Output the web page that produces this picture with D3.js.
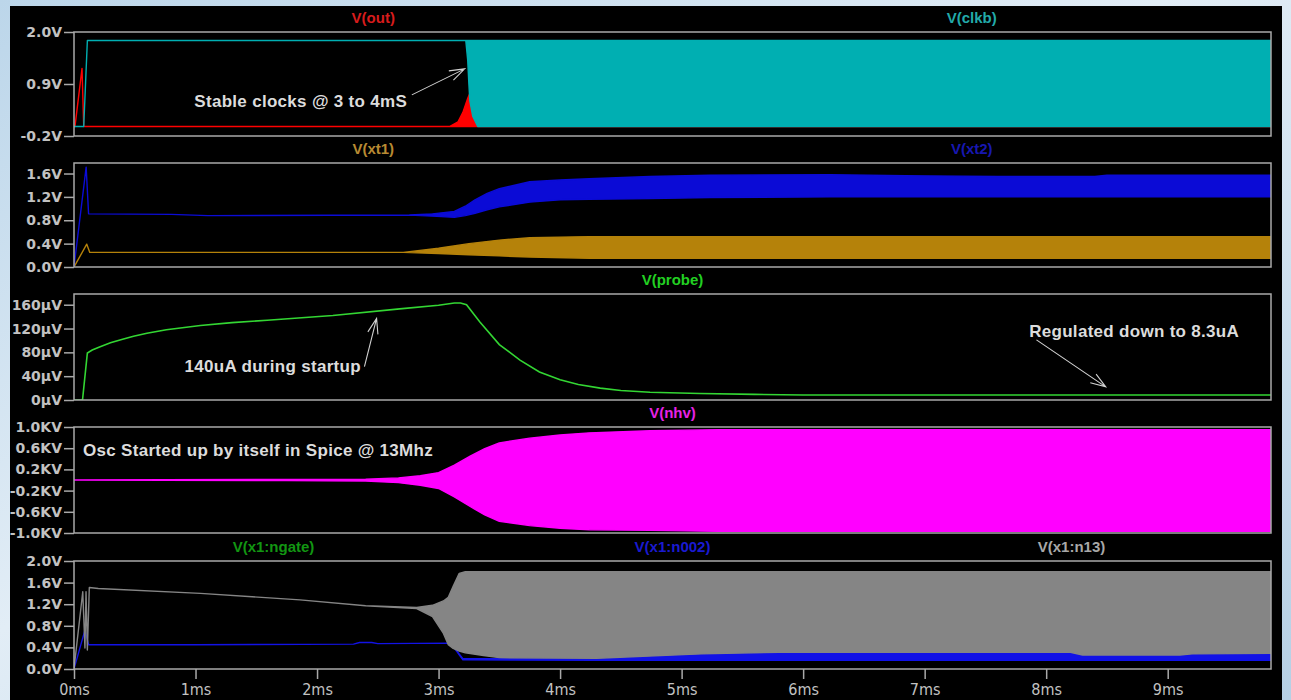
<!DOCTYPE html>
<html><head><meta charset="utf-8">
<script src="https://cdn.jsdelivr.net/npm/d3@7"></script>
<style>
html,body{margin:0;padding:0;overflow:hidden;background:#cfe2f0;}
</style></head><body>
<svg id="c" width="1291" height="700"></svg>
<script>
// ---------------- DATA ----------------
const msTicks = [0,1,2,3,4,5,6,7,8,9];
const msLabels = ["0ms","1ms","2ms","3ms","4ms","5ms","6ms","7ms","8ms","9ms"];

const p1Ticks = [-0.2, 0.9, 2.0];
const p1Labels = ["-0.2V","0.9V","2.0V"];
const p2Ticks = [0, 0.4, 0.8, 1.2, 1.6];
const p2Labels = ["0.0V","0.4V","0.8V","1.2V","1.6V"];
const p3Ticks = [0, 40, 80, 120, 160];
const p3Labels = ["0µV","40µV","80µV","120µV","160µV"];
const p4Ticks = [-1.0, -0.6, -0.2, 0.2, 0.6, 1.0];
const p4Labels = ["-1.0KV","-0.6KV","-0.2KV","0.2KV","0.6KV","1.0KV"];
const p5Ticks = [0, 0.4, 0.8, 1.2, 1.6, 2.0];
const p5Labels = ["0.0V","0.4V","0.8V","1.2V","1.6V","2.0V"];

// V(out) envelope (V) vs time (ms)
const outT  = [0, 0.008, 0.066, 0.08, 3.09, 3.16, 3.20, 3.24, 3.26, 3.35, 9.85];
const outHi = [0, 0, 1.23, 0, 0, 0.10, 0.30, 0.60, 0.72, 1.0, 1.0];
const outLo = [0, 0, 1.23, 0, 0, 0, 0, 0, 0, 0, 0];
// V(clkb)
const clkbT  = [0, 0.08, 0.11, 3.224, 3.240, 3.248, 3.257, 3.281, 3.322, 9.85];
const clkbHi = [0, 0, 1.82, 1.82, 1.82, 1.82, 1.82, 1.82, 1.82, 1.82];
const clkbLo = [0, 0, 1.82, 1.82, 1.40, 0.97, 0.55, 0.22, 0.0, 0.0];

// V(xt1)
const xt1T  = [0, 0.105, 0.13, 2.71, 3.0, 3.25, 3.5, 3.75, 4.24, 9.85];
const xt1Hi = [0, 0.39, 0.25, 0.25, 0.32, 0.40, 0.46, 0.50, 0.52, 0.52];
const xt1Lo = [0, 0.39, 0.25, 0.25, 0.23, 0.21, 0.19, 0.17, 0.15, 0.15];
// V(xt2)
const xt2T  = [0, 0.10, 0.12, 0.8, 1.1, 2.76, 2.95, 3.13, 3.22, 3.30, 3.4, 3.5, 3.75, 4.0, 4.24, 4.74, 5.23, 6.22, 7.0, 7.6, 8.4, 8.5, 9.85];
const xt2Hi = [0, 1.71, 0.91, 0.90, 0.88, 0.89, 0.91, 0.95, 1.04, 1.15, 1.26, 1.34, 1.46, 1.49, 1.51, 1.55, 1.57, 1.58, 1.56, 1.55, 1.55, 1.57, 1.57];
const xt2Lo = [0, 1.71, 0.91, 0.90, 0.88, 0.89, 0.87, 0.85, 0.88, 0.92, 0.98, 1.03, 1.11, 1.15, 1.16, 1.17, 1.19, 1.20, 1.20, 1.20, 1.20, 1.20, 1.20];

// V(probe) (µV)
const probeT = [0, 0.07, 0.11, 0.15, 0.21, 0.3, 0.4, 0.49, 0.6, 0.76, 1.04, 1.3, 1.59, 2.13, 2.68, 3.0, 3.13, 3.18, 3.23, 3.34, 3.5, 3.67, 3.83, 4.0, 4.15, 4.33, 4.5, 4.74, 5.15, 5.6, 6.0, 9.85];
const probeV = [0, 0, 79, 84, 89, 96, 102, 107, 112, 118, 125, 130, 134, 142, 153, 159, 163, 163, 160, 131, 93, 67, 47, 34, 26, 20, 16, 13, 11, 9.5, 8.5, 8.3];

// V(nhv) (KV)
const nhvT  = [0, 1.75, 2.4, 2.67, 2.85, 3.0, 3.13, 3.26, 3.38, 3.5, 3.75, 4.0, 4.24, 4.74, 5.3, 9.85];
const nhvHi = [0, 0.01, 0.015, 0.04, 0.08, 0.14, 0.28, 0.45, 0.59, 0.70, 0.79, 0.85, 0.89, 0.93, 0.95, 0.95];
const nhvLo = [0, -0.01, -0.02, -0.05, -0.10, -0.16, -0.32, -0.50, -0.66, -0.78, -0.86, -0.91, -0.94, -0.95, -0.97, -0.97];

// V(x1:n002)
const n002T  = [0, 0.09, 0.12, 1.0, 2.3, 2.35, 2.45, 2.5, 3.1, 3.2, 4.3, 5.16, 5.8, 8.2, 8.3, 9.1, 9.2, 9.85];
const n002Hi = [0, 0.72, 0.45, 0.45, 0.46, 0.49, 0.49, 0.47, 0.48, 0.19, 0.19, 0.30, 0.33, 0.33, 0.28, 0.28, 0.30, 0.31];
const n002Lo = [0, 0.72, 0.45, 0.45, 0.46, 0.49, 0.49, 0.47, 0.48, 0.17, 0.16, 0.16, 0.16, 0.16, 0.16, 0.16, 0.16, 0.16];
// V(x1:n13)
const n13T  = [0, 0.072, 0.09, 0.099, 0.11, 0.126, 0.2, 1.04, 1.86, 2.4, 2.82, 2.95, 3.04, 3.08, 3.12, 3.17, 3.22, 3.37, 3.5, 4.3, 5.16, 5.8, 8.2, 8.3, 9.1, 9.2, 9.85];
const n13Hi = [0, 1.43, 0.39, 1.43, 0.35, 1.51, 1.49, 1.40, 1.28, 1.17, 1.14, 1.18, 1.26, 1.33, 1.53, 1.77, 1.80, 1.80, 1.80, 1.80, 1.80, 1.80, 1.80, 1.80, 1.80, 1.80, 1.80];
const n13Lo = [0, 1.43, 0.39, 1.43, 0.35, 1.51, 1.49, 1.40, 1.28, 1.17, 1.12, 0.97, 0.66, 0.45, 0.38, 0.33, 0.30, 0.25, 0.21, 0.20, 0.28, 0.31, 0.31, 0.26, 0.26, 0.28, 0.29];

// ---------------- LAYOUT ----------------
const W = 1291, H = 700;
const L = 74, R = 1271;
const svg = d3.select("#c");
const defs = svg.append("defs");
const gr = defs.append("linearGradient").attr("id","wp").attr("x1","0").attr("y1","0").attr("x2","1").attr("y2","1");
gr.append("stop").attr("offset","0").attr("stop-color","#bcd6ea");
gr.append("stop").attr("offset","0.45").attr("stop-color","#e2edf6");
gr.append("stop").attr("offset","1").attr("stop-color","#b6d0e5");
svg.append("rect").attr("width",W).attr("height",H).attr("fill","url(#wp)");
svg.append("rect").attr("x",10).attr("y",6).attr("width",1272).attr("height",694).attr("fill","#000");

const x = d3.scaleLinear().domain([0, 9.85]).range([L, R]);

const FRAME = "#a9a9a9";
const TICKTXT = "#c2c2c2";
const tickFont = "'DejaVu Sans', sans-serif";

const panels = [
  {top:32, bottom:136, domain:[-0.2,2.0], ticks:p1Ticks, labels:p1Labels,
   titles:[["V(out)","#d81c1c"],["V(clkb)","#22aaaa"]],
   env:[[outT,outHi,outLo,"#ff0000"],[clkbT,clkbHi,clkbLo,"#00afb2"]]},
  {top:163, bottom:267, domain:[0,1.78], ticks:p2Ticks, labels:p2Labels,
   titles:[["V(xt1)","#b88a32"],["V(xt2)","#1717b0"]],
   env:[[xt1T,xt1Hi,xt1Lo,"#b5820a"],[xt2T,xt2Hi,xt2Lo,"#0b0bd6"]]},
  {top:294, bottom:400, domain:[0,178], ticks:p3Ticks, labels:p3Labels,
   titles:[["V(probe)","#22d022"]],
   lines:[[probeT,probeV,"#33d633"]]},
  {top:427, bottom:533, domain:[-1,1], ticks:p4Ticks, labels:p4Labels,
   titles:[["V(nhv)","#e622e6"]],
   env:[[nhvT,nhvHi,nhvLo,"#ff00ff"]]},
  {top:561, bottom:669, domain:[0,2], ticks:p5Ticks, labels:p5Labels,
   titles:[["V(x1:ngate)","#129612"],["V(x1:n002)","#1a1ad0"],["V(x1:n13)","#a8a8a8"]],
   env:[[n002T,n002Hi,n002Lo,"#1212e6"],[n13T,n13Hi,n13Lo,"#858585"]]}
];

const annotations = [
  {p:0, t:0.99, v:0.54, text:"Stable clocks @ 3 to 4mS"},
  {p:2, t:0.91, v:57, text:"140uA during startup"},
  {p:2, t:7.86, v:116, text:"Regulated down to 8.3uA"},
  {p:3, t:0.074, v:0.57, text:"Osc Started up by itself in Spice @ 13Mhz"}
];
const arrows = [
  {p:0, from:[2.78,0.67], to:[3.215,1.22]},
  {p:2, from:[2.39,56], to:[2.49,137]},
  {p:2, from:[7.92,101], to:[8.49,22]}
];

const ys = [];
panels.forEach((P, pi) => {
  const y = d3.scaleLinear().domain(P.domain).range([P.bottom, P.top]);
  ys.push(y);
  const cid = "clip" + pi;
  defs.append("clipPath").attr("id", cid).append("rect")
    .attr("x", L).attr("y", P.top).attr("width", R - L).attr("height", P.bottom - P.top);
  const g = svg.append("g").attr("clip-path", `url(#${cid})`);
  (P.env || []).forEach(([t, hi, lo, col]) => {
    const data = t.map((d, i) => ({t: d, hi: hi[i], lo: lo[i]}));
    const area = d3.area().x(d => x(d.t)).y0(d => y(d.lo)).y1(d => y(d.hi));
    g.append("path").datum(data).attr("d", area)
      .attr("fill", col).attr("stroke", col).attr("stroke-width", 1.4)
      .attr("stroke-linejoin", "round");
  });
  (P.lines || []).forEach(([t, v, col]) => {
    const data = t.map((d, i) => ({t: d, v: v[i]}));
    const line = d3.line().x(d => x(d.t)).y(d => y(d.v));
    g.append("path").datum(data).attr("d", line)
      .attr("fill", "none").attr("stroke", col).attr("stroke-width", 1.6);
  });
  // frame
  svg.append("rect").attr("x", L).attr("y", P.top).attr("width", R - L).attr("height", P.bottom - P.top)
    .attr("fill", "none").attr("stroke", FRAME).attr("stroke-width", 1.5);
  // y axis
  const ax = svg.append("g").attr("transform", `translate(${L},0)`)
    .call(d3.axisLeft(y).tickValues(P.ticks).tickFormat((d, i) => P.labels[i]).tickSize(10).tickPadding(2));
  ax.select(".domain").remove();
  ax.selectAll("line").attr("stroke", FRAME).attr("stroke-width", 1.5);
  ax.selectAll("text").attr("fill", TICKTXT).style("font-family", tickFont)
    .style("font-weight", "bold").style("font-size", "14px");
  // titles
  const n = P.titles.length;
  P.titles.forEach(([txt, col], i) => {
    svg.append("text").attr("x", L + (R - L) * (2 * i + 1) / (2 * n)).attr("y", P.top - 9)
      .attr("text-anchor", "middle").attr("fill", col)
      .style("font-family", "'Liberation Sans', Arial, sans-serif").style("font-weight", "bold")
      .style("font-size", "15px").text(txt);
  });
});

// x axis
const last = panels[panels.length - 1];
const xa = svg.append("g").attr("transform", `translate(0,${last.bottom})`)
  .call(d3.axisBottom(x).tickValues(msTicks).tickFormat((d, i) => msLabels[i]).tickSize(10).tickPadding(5));
xa.select(".domain").remove();
xa.selectAll("line").attr("stroke", FRAME).attr("stroke-width", 1.5);
xa.selectAll("text").attr("fill", TICKTXT)
  .style("font-family", "'DejaVu Sans Condensed', 'DejaVu Sans', sans-serif")
  .style("font-stretch", "condensed").style("font-size", "16px");

// annotations
annotations.forEach(a => {
  svg.append("text").attr("x", x(a.t)).attr("y", ys[a.p](a.v)).attr("dy", "0.36em")
    .attr("fill", "#dcdcdc").style("font-family", "'Liberation Sans', Arial, sans-serif")
    .style("font-weight", "bold").style("font-size", "17px").style("letter-spacing", "0.3px").text(a.text);
});
arrows.forEach(a => {
  const y = ys[a.p];
  const x0 = x(a.from[0]), y0 = y(a.from[1]), x1 = x(a.to[0]), y1 = y(a.to[1]);
  const ang = Math.atan2(y1 - y0, x1 - x0);
  const len = 16, sp = 0.33;
  const b1 = [x1 - len * Math.cos(ang - sp), y1 - len * Math.sin(ang - sp)];
  const b2 = [x1 - len * Math.cos(ang + sp), y1 - len * Math.sin(ang + sp)];
  svg.append("path")
    .attr("d", `M${x0},${y0}L${x1},${y1}M${b1[0]},${b1[1]}L${x1},${y1}L${b2[0]},${b2[1]}`)
    .attr("fill", "none").attr("stroke", "#d0d0d0").attr("stroke-width", 1.1);
});
</script>
</body></html>
